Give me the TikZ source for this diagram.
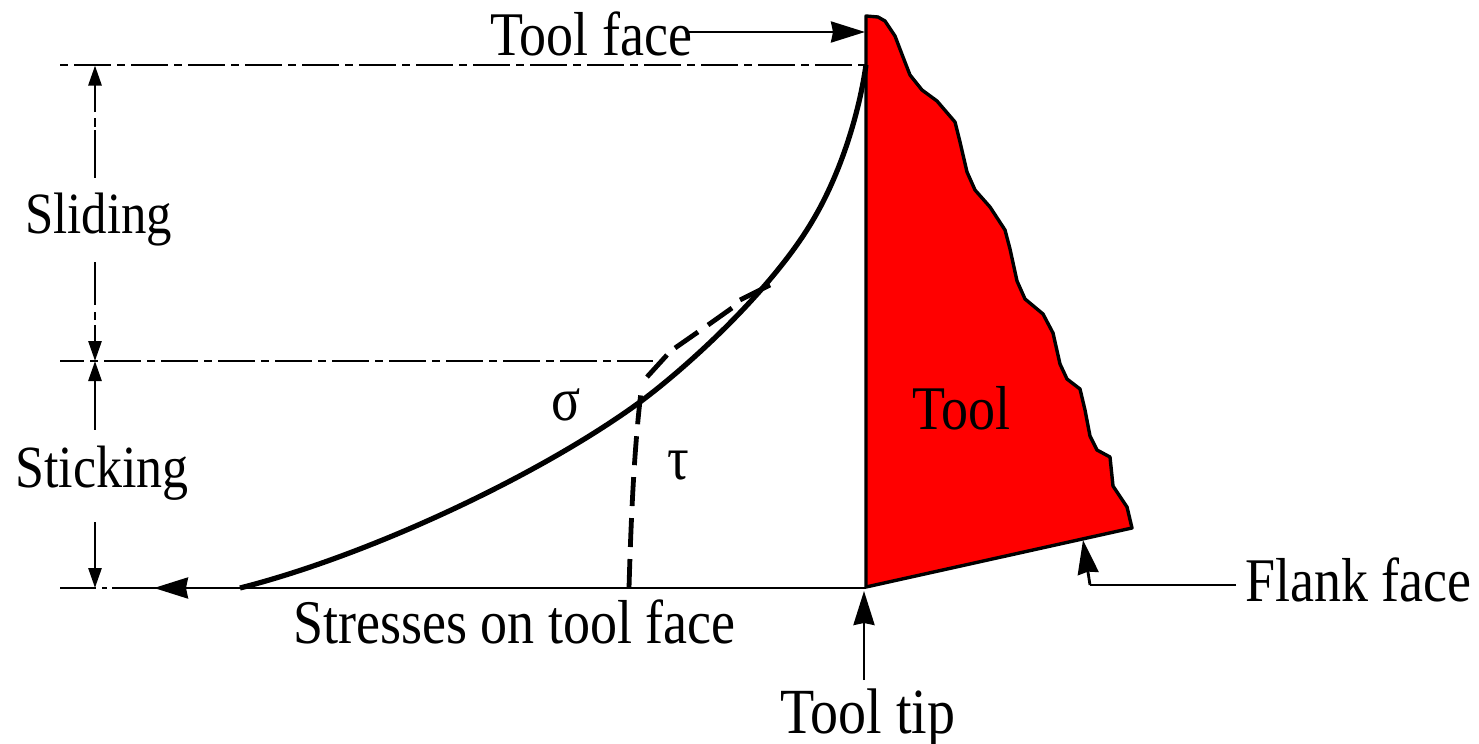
\documentclass[tikz,border=0pt]{standalone}
\usepackage{fontspec}
\setmainfont{Liberation Serif}
\usetikzlibrary{arrows.meta}
\newcommand{\tallfont}[2]{\fontsize{#1}{30}\selectfont\scalebox{1}[1.15]{#2}}
\tikzset{
  thinline/.style={line width=1.4pt,black},
  ddot/.style={thinline,dash pattern=on 4pt off 3pt on 18.5pt off 3pt},
  ddotb/.style={thinline,dash pattern=on 18.5pt off 3pt on 4pt off 3pt,dash phase=6.5pt},
  bigarrow/.style={thinline,-{Stealth[length=17pt,width=10.5pt,inset=1pt]}},
  smallarrow/.style={line width=1.4pt,black,-{Stealth[length=10pt,width=6.5pt,inset=0pt]}},
  lbl/.style={anchor=base west,inner sep=0pt},
  curveline/.style={line width=2.6pt,black,line cap=butt},
  dashcurve/.style={line width=2.4pt,black,dash pattern=on 14.5pt off 6pt}
}
\begin{document}
\begin{tikzpicture}[x=0.5pt,y=-0.5pt]
\useasboundingbox (0,0) rectangle (1479,744);
% coordinates
\coordinate (top) at (866,16);
\coordinate (tip) at (866,587);
\coordinate (cornerR) at (1132,528);
\coordinate (slL) at (60,65);
\coordinate (slR) at (866,65);
\coordinate (midL) at (60,361);
\coordinate (midR) at (653,361);
\coordinate (botL) at (60,588);
\coordinate (botR) at (866,588);
\coordinate (dimTop) at (95,65.5);
\coordinate (dimMid) at (95,361);
\coordinate (dimBot) at (95,588);
% tool
\draw[line width=1.7pt,fill=red,line join=round] (top) -- (878,17) -- (885,21) -- (895,36) -- (903,57) -- (910,75) -- (922,90) -- (937,101) -- (955,122) -- (960,142) -- (967,172) -- (975,190) -- (990,207) -- (1005,230) -- (1010,249) -- (1017,281) -- (1025,299) -- (1043,314) -- (1053,333) -- (1060,364) -- (1067,379) -- (1080,389) -- (1085,410) -- (1090,436) -- (1097,450) -- (1110,457) -- (1113,486) -- (1127,507) -- (cornerR) -- (tip) -- cycle;
% horizontal lines
\draw[ddot] (slL) -- (slR);
\draw[ddotb] (midL) -- (midR);
\draw[thinline,dash pattern=on 18pt off 3pt on 2.5pt off 2.5pt on 500pt] (botL) -- (botR);
% dimension line
\draw[smallarrow] (95,112) -- (dimTop);
\draw[thinline] (95,118) -- (95,127) (95,130) -- (95,178);
\draw[thinline] (95,262) -- (95,305) (95,312) -- (95,320);
\draw[smallarrow] (95,325) -- (dimMid);
\draw[smallarrow] (95,383) -- (dimMid);
\draw[thinline] (95,383) -- (95,430);
\draw[smallarrow] (95,522) -- (dimBot);
% stress curves
\draw[curveline] (240,588) .. controls (370,555) and (540,475) .. (640,402)
  .. controls (695,361) and (775,285) .. (813,220)
  .. controls (838,178) and (858,120) .. (866,65);
\draw[dashcurve,line cap=butt] (629,588) .. controls (631,520) and (634,450) .. (641,392);
\draw[line width=2.4pt] (647,377) -- (667,355) (675,348) -- (698,332) (708,325) -- (732,308) (740,300) -- (770,285);
% bottom arrow
\coordinate (arrowS) at (200,588);
\coordinate (arrowE) at (154,588);
\draw[bigarrow] (arrowS) -- (arrowE);
% tool face arrow
\node[lbl] (toolface) at (490,55) {\tallfont{27}{Tool face}};
\coordinate (tfS) at (688,32);
\coordinate (tfE) at (865,32);
\draw[bigarrow] (tfS) -- (tfE);
% flank arrow
\node[lbl] (flank) at (1245,601) {\tallfont{27}{Flank face}};
\coordinate (flS) at (1236,585);
\coordinate (flC) at (1090,585);
\coordinate (flE) at (1083,540);
\draw[thinline] (flS) -- (flC);
\draw[bigarrow] (flC) -- (flE);
% tool tip arrow
\node[lbl] (tooltip) at (780,733) {\tallfont{28}{Tool tip}};
\coordinate (ttS) at (864,680);
\coordinate (ttE) at (864,591);
\draw[bigarrow] (ttS) -- (ttE);
% labels
\node[lbl] (sliding) at (25,233) {\tallfont{25.4}{Sliding}};
\node[lbl] (sticking) at (15,487) {\tallfont{26}{Sticking}};
\node[lbl] (sigma) at (551,420) {\tallfont{27}{σ}};
\node[lbl] (tau) at (667,479) {\tallfont{27}{τ}};
\node[lbl] (stress) at (293,643) {\tallfont{27}{Stresses on tool face}};
\node[lbl] (tool) at (912,429) {\tallfont{27}{Tool}};
\end{tikzpicture}
\end{document}
